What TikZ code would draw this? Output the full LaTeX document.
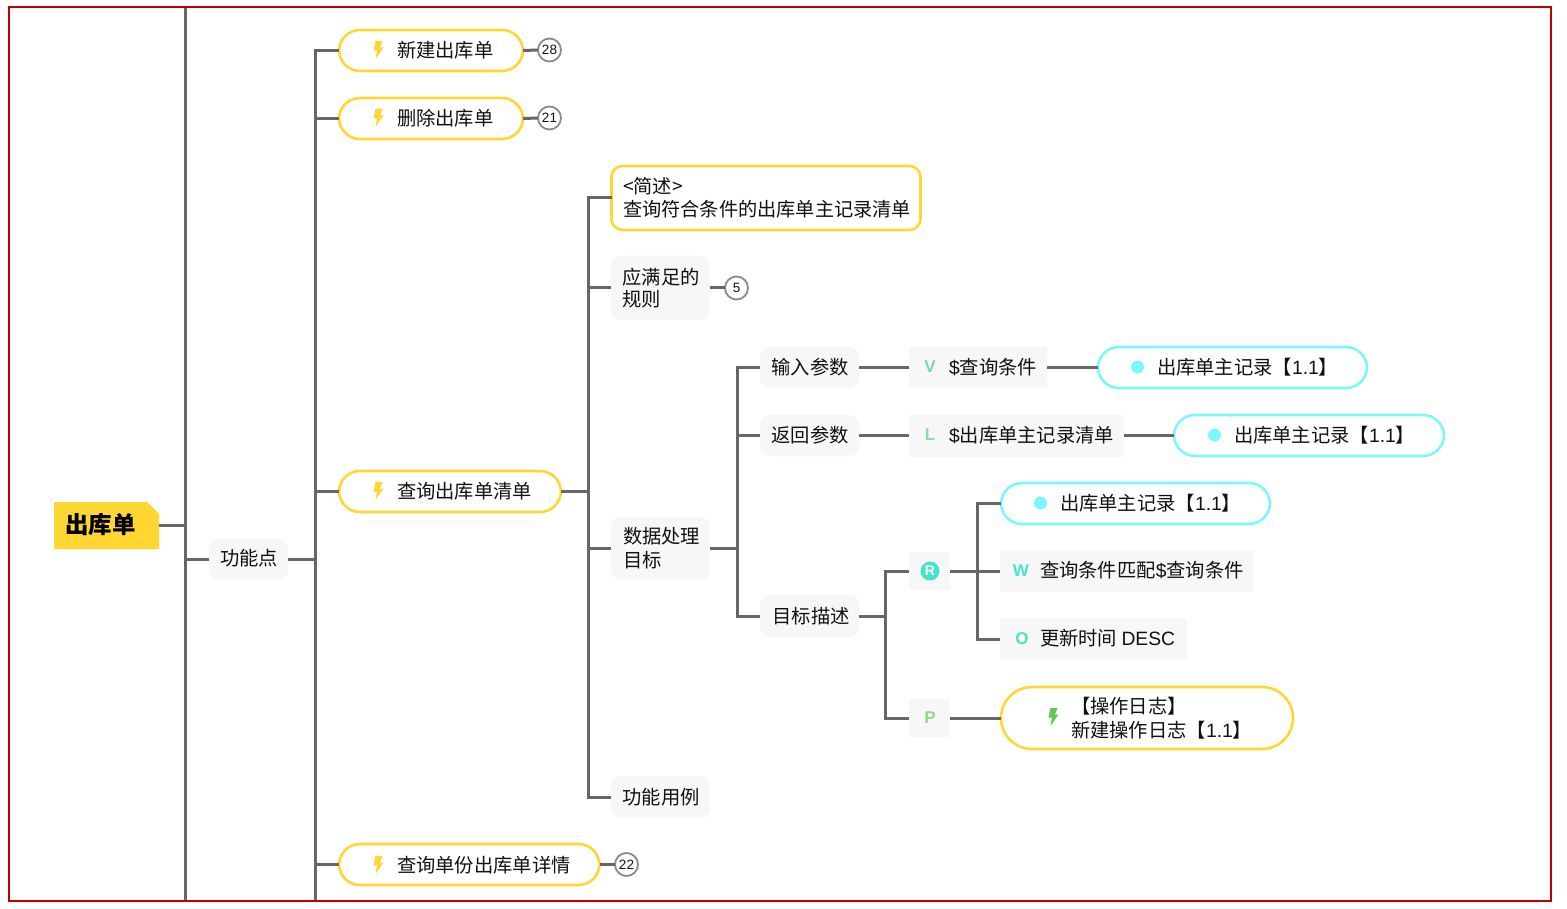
\documentclass[tikz,border=0pt]{standalone}
\usepackage{fontspec}
\setmainfont{Noto Sans CJK SC}
\newfontfamily\latinfont{Liberation Sans}
\newcommand{\lat}[1]{{\latinfont #1}}
\usetikzlibrary{calc}
\definecolor{linegrey}{HTML}{666666}
\definecolor{boxgrey}{HTML}{F7F7F7}
\definecolor{sun}{HTML}{FFD632}
\definecolor{aqua}{HTML}{7DF7FF}
\definecolor{framered}{HTML}{C00000}
\definecolor{ink}{HTML}{111111}
\definecolor{boltgreen}{HTML}{5CCB4E}
\definecolor{tagv}{HTML}{7BD89B}
\definecolor{tagl}{HTML}{8FDC9A}
\definecolor{tagteal}{HTML}{45E3CC}
\definecolor{tagp}{HTML}{93D98A}
\definecolor{badgeline}{HTML}{8A8A8A}
\tikzset{
  conn/.style={draw=linegrey,line width=3pt},
  boxbase/.style={inner sep=0pt,outer sep=0pt,text=ink},
  greybox/.style={boxbase,fill=boxgrey,rounded corners=10pt},
  tagbox/.style={boxbase,fill=boxgrey},
  sunpill/.style={boxbase,draw=sun,line width=2.6pt,fill=white,rounded corners=21pt},
  aquapill/.style={boxbase,draw=aqua,line width=2.6pt,fill=white,rounded corners=21pt},
  badge/.style={circle,draw=badgeline,line width=1.8pt,fill=white,minimum size=23pt,inner sep=0pt,outer sep=0pt,text=ink,font=\latinfont\fontsize{13.5}{14}\selectfont},
  txt/.style={inner sep=0pt,outer sep=0pt,anchor=west,text=ink,yshift=-0.4pt,font=\fontsize{19.3}{23.5}\selectfont,align=left},
  tag/.style={inner sep=0pt,outer sep=0pt,yshift=-1pt,font=\latinfont\fontsize{17}{20}\selectfont\bfseries},
}
\newcommand{\bx}[6]{\node[#1,minimum width=#4pt-#2pt,minimum height=#5pt-#3pt] (#6) at ({(#2+#4)/2},{(#3+#5)/2}) {};}
\newcommand{\bolt}[3]{\fill[#3] (#1,#2) ++(-1.5,-9) -- ++(7,0) -- ++(-2.5,6.5) -- ++(3.5,0) -- ++(-8,11.5) -- ++(1.5,-8.5) -- ++(-3.5,0) -- cycle;}
\begin{document}
\begin{tikzpicture}[x=1pt,y=-1pt]
\useasboundingbox (0,0) rectangle (1567,909);
\fill[white] (0,0) rectangle (1567,909);
% junction coordinates
\coordinate (top1) at (185.4,7);
\coordinate (bot1) at (185.4,901);
\coordinate (j2) at (315.4,559);
\coordinate (bot2) at (315.4,901);
\coordinate (j3) at (588.4,491);
\coordinate (j4) at (737.4,549);
\coordinate (j5) at (885.4,616);
\coordinate (j6) at (977.4,571);
% nodes
\fill[sun] (54,502) -- (147,502) -- (159,514) -- (159,549) -- (54,549) -- cycle;
\node[inner sep=0pt,outer sep=0pt,minimum width=105pt,minimum height=47pt] (root) at (106.5,525.5) {};
\node[txt,font=\fontsize{23.5}{26}\selectfont\bfseries,text=black] (roott) at (65,524) {出库单};
\bx{greybox}{209}{539}{288}{580}{func}
\node[txt] (funct) at (220,558) {功能点};
\bx{sunpill}{339}{30}{523}{71}{p1}
\bx{sunpill}{339}{98}{523}{139}{p2}
\bx{sunpill}{339}{471}{561}{512}{p3}
\bx{sunpill}{339}{844}{599.5}{885}{p4}
\node[txt] (p1t) at (397,49.5) {新建出库单};
\node[txt] (p2t) at (397,117.5) {删除出库单};
\node[txt] (p3t) at (397,490.5) {查询出库单清单};
\node[txt] (p4t) at (397,864.5) {查询单份出库单详情};
\bolt{377}{50}{sun}
\bolt{377}{118}{sun}
\bolt{377}{491}{sun}
\bolt{377}{865}{sun}
\node[badge] (b1) at (549.5,50) {28};
\node[badge] (b2) at (549.5,118) {21};
\node[badge] (b3) at (626.5,864.5) {22};
\node[badge] (b4) at (736.5,288) {5};
\bx{boxbase,draw=sun,line width=2.6pt,fill=white,rounded corners=11pt}{611.5}{166}{920.5}{230}{s1}
\node[txt,font=\fontsize{19.2}{23}\selectfont] (s1t) at (623,197.5) {<简述>\\查询符合条件的出库单主记录清单};
\bx{greybox}{611}{256}{710}{320}{s2}
\node[txt,font=\fontsize{19.3}{22}\selectfont] (s2t) at (622.5,287.5) {应满足的\\规则};
\bx{greybox}{611}{517}{710}{580}{s3}
\node[txt,font=\fontsize{19.3}{24}\selectfont] (s3t) at (623,548) {数据处理\\目标};
\bx{greybox}{611}{776}{710}{818}{s4}
\node[txt] (s4t) at (622.5,796.5) {功能用例};
\bx{greybox}{760}{347}{859}{388}{i1}
\node[txt] (i1t) at (771.5,366.5) {输入参数};
\bx{greybox}{760}{415}{859}{456}{i2}
\node[txt] (i2t) at (771.5,434.5) {返回参数};
\bx{greybox}{760}{595}{859}{637}{i3}
\node[txt] (i3t) at (772.5,615.5) {目标描述};
\bx{tagbox}{909}{347}{1047}{388}{v}
\node[tag,text=tagv] (vt) at (930,366) {V};
\node[txt] (vtt) at (949,366.5) {\lat{\$}查询条件};
\bx{tagbox}{909}{414.5}{1124}{456.5}{l}
\node[tag,text=tagl] (lt) at (930,434) {L};
\node[txt] (ltt) at (949,434.5) {\lat{\$}出库单主记录清单};
\bx{aquapill}{1098}{347}{1367}{388}{a1}
\fill[aqua] (1137.5,367) circle (6.5);
\node[txt] (a1t) at (1157,366.5) {出库单主记录【\lat{1.1}】};
\bx{aquapill}{1174}{415}{1444}{456}{a2}
\fill[aqua] (1214.5,435) circle (6.5);
\node[txt] (a2t) at (1234,434.5) {出库单主记录【\lat{1.1}】};
\bx{aquapill}{1001}{483}{1270}{524}{a3}
\fill[aqua] (1040.5,503) circle (6.5);
\node[txt] (a3t) at (1060,502.5) {出库单主记录【\lat{1.1}】};
\bx{tagbox}{909}{552}{950}{590}{r}
\fill[tagteal] (930,571) circle (9.5);
\node[inner sep=0pt,text=white,font=\latinfont\fontsize{14}{15}\selectfont\bfseries] (rt) at (930,571) {R};
\bx{tagbox}{909}{699}{950}{737}{pp}
\node[tag,text=tagp] (ppt) at (930,717) {P};
\bx{tagbox}{1000}{550}{1254}{592}{w}
\node[tag,text=tagteal] (wt) at (1021,570) {W};
\node[txt] (wtt) at (1040,570) {查询条件匹配\lat{\$}查询条件};
\bx{tagbox}{1000}{618}{1187}{660}{o}
\node[tag,text=tagteal] (ot) at (1022,638) {O};
\node[txt] (ott) at (1040,638) {更新时间 \lat{DESC}};
\bx{boxbase,draw=sun,line width=2.6pt,fill=white,rounded corners=31pt}{1001}{687}{1293}{749}{log}
\bolt{1052}{717}{boltgreen}
\node[txt,font=\fontsize{19.3}{24}\selectfont] (logt) at (1071,718) {【操作日志】\\新建操作日志【\lat{1.1}】};
% connectors
\draw[conn] (top1) -- (bot1);
\draw[conn] (root.east) -- (root.east -| top1);
\draw[conn] (func.west -| top1) -- (func.west);
\draw[conn] (func.east) -- (func.east -| j2);
\draw[conn] (j2) -- (bot2);
\draw[conn] (j2) |- (p1.west);
\draw[conn] (j2) |- (p2.west);
\draw[conn] (j2 |- p3.west) -- (p3.west);
\draw[conn] (j2 |- p4.west) -- (p4.west);
\draw[conn] (p1.east) -- (b1.west);
\draw[conn] (p2.east) -- (b2.west);
\draw[conn] (p4.east) -- (b3.west);
\draw[conn] (p3.east) -- (p3.east -| j3);
\draw[conn] (j3) |- (s1.west);
\draw[conn] (j3) |- (s4.west);
\draw[conn] (j3 |- s2.west) -- (s2.west);
\draw[conn] (j3 |- s3.west) -- (s3.west);
\draw[conn] (s2.east) -- (b4.west);
\draw[conn] (s3.east) -- (s3.east -| j4);
\draw[conn] (j4) |- (i1.west);
\draw[conn] (j4) |- (i3.west);
\draw[conn] (j4 |- i2.west) -- (i2.west);
\draw[conn] (i1.east) -- (v.west);
\draw[conn] (i2.east) -- (l.west);
\draw[conn] (v.east) -- (a1.west);
\draw[conn] (l.east) -- (a2.west);
\draw[conn] (i3.east) -- (i3.east -| j5);
\draw[conn] (j5) |- (r.west);
\draw[conn] (j5) |- (pp.west);
\draw[conn] (pp.east) -- (log.west);
\draw[conn] (r.east) -- (w.west);
\draw[conn] (j6) |- (a3.west);
\draw[conn] (j6) |- (o.west);
% frame
\draw[framered,line width=2pt] (9,7) rectangle (1551,901);
\end{tikzpicture}
\end{document}
